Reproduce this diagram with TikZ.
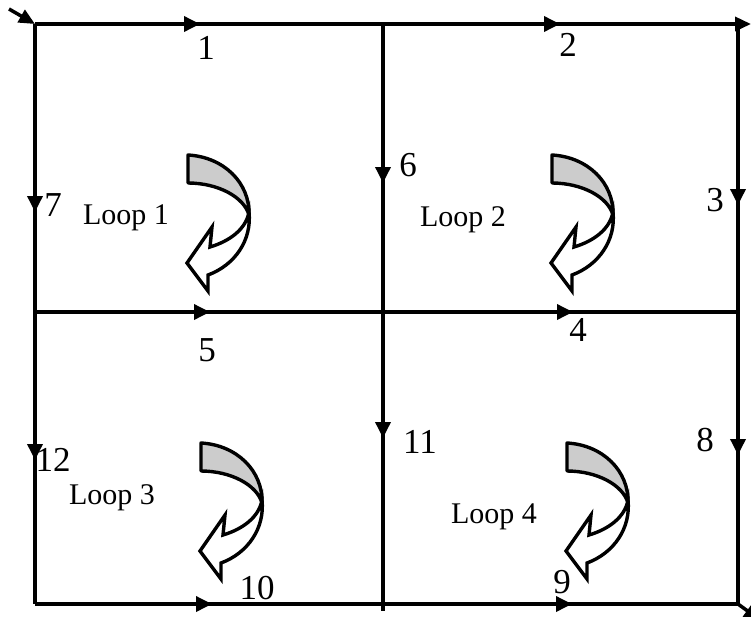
\documentclass[tikz,border=0pt]{standalone}
\usepackage{fontspec}
\setmainfont{Liberation Serif}
\usetikzlibrary{arrows.meta,decorations.markings}
\tikzset{
  wire/.style={line width=3.5pt},
  tipstyle/.style={-{Triangle[length=16pt,width=14pt]}},
  midarrow/.style={postaction={decorate},decoration={markings,mark=at position #1 with {\arrow{Triangle[length=16pt,width=15pt]}}}},
  num/.style={font=\fontsize{35}{35}\selectfont, inner sep=0pt},
  looptxt/.style={font=\fontsize{30}{30}\selectfont, inner sep=0pt},
  loopicon/.pic={
    \draw[line width=3.4pt, fill=gray!40, line join=round]
      (0,0) .. controls (36,2) and (62,28) .. (61,60)
            .. controls (56,42) and (30,28) .. (0,28) -- cycle;
    \draw[line width=3.4pt, fill=white, line join=miter]
      (61,57) .. controls (64,85) and (47,110) .. (20,120)
      -- (20,136) -- (-1,108) -- (24,72) -- (22,92)
      .. controls (42,86) and (58,74) .. (61,57) -- cycle;
  }
}
\begin{document}
\begin{tikzpicture}[x=1pt,y=-1pt]
\useasboundingbox (0,0) rectangle (751,616);
% grid points
\coordinate (A) at (35,24);
\coordinate (B) at (383,24);
\coordinate (C) at (738,24);
\coordinate (Cx) at (751,24);
\coordinate (D) at (35,312);
\coordinate (E) at (383,312);
\coordinate (F) at (738,312);
\coordinate (G) at (35,604);
\coordinate (H) at (383,604);
\coordinate (Hx) at (383,611);
\coordinate (I) at (738,604);
\coordinate (Ix) at (760,620);
\coordinate (S) at (9,9);
% corner arrows
\draw[wire,tipstyle] (S) -- (A);
\draw[wire,tipstyle] (C) -- (Cx);
\draw[wire,tipstyle] (I) -- (Ix);
% top
\draw[wire,midarrow=165pt] (A) -- (B);
\draw[wire,midarrow=177pt] (B) -- (C);
% left
\draw[wire,midarrow=188pt] (A) -- (D);
\draw[wire,midarrow=148pt] (D) -- (G);
% middle vertical
\draw[wire,midarrow=159pt] (B) -- (E);
\draw[wire,midarrow=126pt] (E) -- (H);
\draw[wire] (H) -- (Hx);
% right
\draw[wire,midarrow=181pt] (C) -- (F);
\draw[wire,midarrow=143pt] (F) -- (I);
% middle horizontal
\draw[wire,midarrow=175pt] (D) -- (E);
\draw[wire,midarrow=190pt] (E) -- (F);
% bottom
\draw[wire,midarrow=177pt] (G) -- (H);
\draw[wire,midarrow=189pt] (H) -- (I);
% branch labels
\node[num] (n1) at (206,48) {1};
\node[num] (n2) at (568,45) {2};
\node[num] (n3) at (715,200) {3};
\node[num] (n4) at (578,330) {4};
\node[num] (n5) at (207,350) {5};
\node[num] (n6) at (408,165) {6};
\node[num] (n7) at (53,205) {7};
\node[num] (n8) at (705,440) {8};
\node[num] (n9) at (562,582) {9};
\node[num] (n10) at (257,588) {10};
\node[num] (n11) at (420,442) {11};
\node[num] (n12) at (53,460) {12};
% loop labels
\node[looptxt] (l1) at (126,218) {Loop 1};
\node[looptxt] (l2) at (463,220) {Loop 2};
\node[looptxt] (l3) at (112,498) {Loop 3};
\node[looptxt] (l4) at (494,517) {Loop 4};
% loop icons
\pic at (188,155) {loopicon};
\pic at (552,155) {loopicon};
\pic at (201,443) {loopicon};
\pic at (567,443) {loopicon};
\end{tikzpicture}
\end{document}
